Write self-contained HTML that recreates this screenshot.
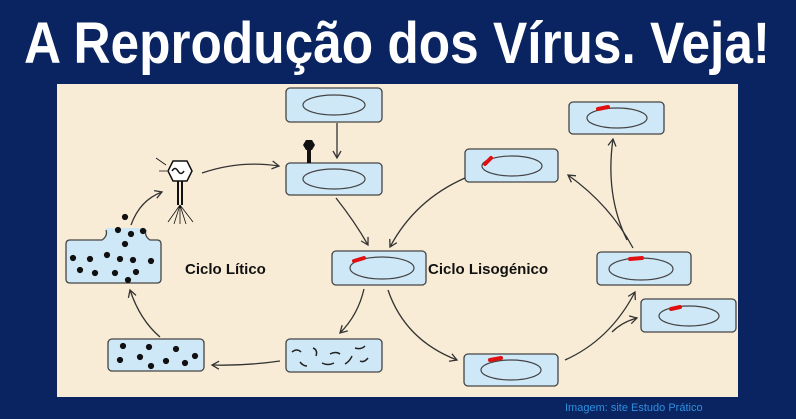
<!DOCTYPE html>
<html><head><meta charset="utf-8"><style>
html,body{margin:0;padding:0;background:#0a2462;}
svg{display:block}
</style></head><body>
<svg width="796" height="419" viewBox="0 0 796 419" xmlns="http://www.w3.org/2000/svg">
<defs>
<marker id="ah" markerWidth="10" markerHeight="10" refX="8" refY="5" orient="auto" markerUnits="userSpaceOnUse">
<path d="M1,1 L8,5 L1,9" fill="none" stroke="#333" stroke-width="1.3"/>
</marker>
</defs>
<rect width="796" height="419" fill="#0a2462"/>
<text x="24" y="63" font-family="Liberation Sans, sans-serif" font-weight="bold" font-size="58" fill="#fff" textLength="746" lengthAdjust="spacingAndGlyphs">A Reprodução dos Vírus. Veja!</text>
<rect x="57" y="84" width="681" height="313" fill="#f9ecd6"/>

<g stroke="#444" stroke-width="1.3" fill="#cfe8f7">
<rect x="286" y="88" width="96" height="34" rx="4"/>
<rect x="286" y="163" width="96" height="32" rx="4"/>
<rect x="332" y="251" width="94" height="34" rx="4"/>
<rect x="108" y="339" width="96" height="32" rx="4"/>
<rect x="286" y="339" width="96" height="33" rx="4"/>
<rect x="465" y="149" width="93" height="33" rx="4"/>
<rect x="569" y="102" width="95" height="32" rx="4"/>
<rect x="597" y="252" width="94" height="33" rx="4"/>
<rect x="641" y="299" width="95" height="33" rx="4"/>
<rect x="464" y="354" width="94" height="32" rx="4"/>
</g>
<path d="M70,240 H102 Q108,236 106,228 L146,228 Q144,236 150,240 H157 Q161,240 161,244 V279 Q161,283 157,283 H70 Q66,283 66,279 V244 Q66,240 70,240 Z" fill="#cfe8f7"/>
<path d="M106,230 Q108,236 102,240 H70 Q66,240 66,244 V279 Q66,283 70,283 H157 Q161,283 161,279 V244 Q161,240 157,240 H150 Q144,236 146,230" fill="none" stroke="#444" stroke-width="1.3"/>
<g fill="none" stroke="#444" stroke-width="1.2">
<ellipse cx="334" cy="105" rx="31" ry="10"/>
<ellipse cx="334" cy="179" rx="31" ry="10"/>
<ellipse cx="382" cy="268" rx="32" ry="11"/>
<ellipse cx="512" cy="166" rx="30" ry="10"/>
<ellipse cx="617" cy="118" rx="30" ry="10"/>
<ellipse cx="641" cy="269" rx="32" ry="11"/>
<ellipse cx="689" cy="316" rx="30" ry="10"/>
<ellipse cx="511" cy="370" rx="30" ry="10"/>
</g>
<g stroke="#e01010" stroke-width="4" stroke-linecap="round" fill="none">
<path d="M354,261 L364,258"/>
<path d="M485,164 L491,158"/>
<path d="M598,109 L608,107"/>
<path d="M630,259 L642,258"/>
<path d="M671,309 L680,307"/>
<path d="M490,360 L501,358"/>
</g>
<!-- phage -->
<g stroke="#111" stroke-width="1.5" fill="#fff">
<path d="M173,161 H187 L192,171 L187,181 H173 L168,171 Z"/>
<path d="M172,171 q3,-5 6,0 t6,0" fill="none"/>
<path d="M178,181 V205 M182,181 V205" fill="none" stroke-width="2"/>
<path d="M180,205 L168,222 M180,205 L174,224 M180,205 L180,224 M180,205 L186,224 M180,205 L193,222" fill="none" stroke-width="0.8"/>
<path d="M156,158 L166,165 M159,171 L167,171" fill="none" stroke-width="0.8"/>
</g>
<!-- attached phage -->
<g fill="#111"><path d="M306,140 h6 l3,5 l-3,5 h-6 l-3,-5z"/><rect x="307" y="150" width="4" height="13"/></g>
<!-- dots phages -->
<g fill="#111" stroke="#111" stroke-width="1.2">
<circle cx="125" cy="217" r="2.5"/><circle cx="118" cy="230" r="2.5"/><circle cx="131" cy="234" r="2.5"/><circle cx="143" cy="231" r="2.5"/>
<circle cx="125" cy="244" r="2.5"/><circle cx="73" cy="258" r="2.5"/><circle cx="90" cy="259" r="2.5"/><circle cx="107" cy="255" r="2.5"/><circle cx="120" cy="259" r="2.5"/><circle cx="133" cy="260" r="2.5"/><circle cx="151" cy="261" r="2.5"/>
<circle cx="80" cy="270" r="2.5"/><circle cx="95" cy="273" r="2.5"/><circle cx="115" cy="273" r="2.5"/><circle cx="136" cy="272" r="2.5"/><circle cx="128" cy="280" r="2.5"/>
<circle cx="123" cy="346" r="2.5"/><circle cx="149" cy="347" r="2.5"/><circle cx="176" cy="349" r="2.5"/><circle cx="195" cy="356" r="2.5"/><circle cx="120" cy="360" r="2.5"/><circle cx="140" cy="357" r="2.5"/><circle cx="166" cy="361" r="2.5"/><circle cx="151" cy="366" r="2.5"/><circle cx="185" cy="363" r="2.5"/>
</g>
<g fill="none" stroke="#222" stroke-width="1.5">
<path d="M292,352 q5,-4 9,0 M300,362 q3,4 7,4 M313,348 q5,2 3,8 M330,354 q6,-3 10,0 M322,363 q6,3 12,0 M345,364 q5,-3 7,-8 M355,348 q6,2 10,-2 M368,358 q-4,5 -8,3"/>
</g>
<!-- arrows -->
<g fill="none" stroke="#333" stroke-width="1.3" marker-end="url(#ah)">
<path d="M337,123 V158"/>
<path d="M202,173 Q240,160 279,166"/>
<path d="M336,198 Q355,222 368,245"/>
<path d="M465,178 Q415,200 390,247"/>
<path d="M364,289 Q358,315 340,333"/>
<path d="M280,361 Q245,366 212,365"/>
<path d="M160,337 Q140,320 130,290"/>
<path d="M131,225 Q140,200 162,192"/>
<path d="M388,290 Q405,340 457,360"/>
<path d="M565,360 Q610,340 635,292"/>
<path d="M612,332 Q622,322 637,318" />
<path d="M633,248 Q610,205 568,175"/>
<path d="M627,240 Q605,195 613,139"/>
</g>
<g font-family="Liberation Sans, sans-serif" font-weight="bold" font-size="15" fill="#111">
<text x="185" y="274">Ciclo Lítico</text>
<text x="428" y="274">Ciclo Lisogénico</text>
</g>
<text x="565" y="411" font-family="Liberation Sans, sans-serif" font-size="11" fill="#2f8fdf">Imagem: site Estudo Prático</text>
</svg>
</body></html>
